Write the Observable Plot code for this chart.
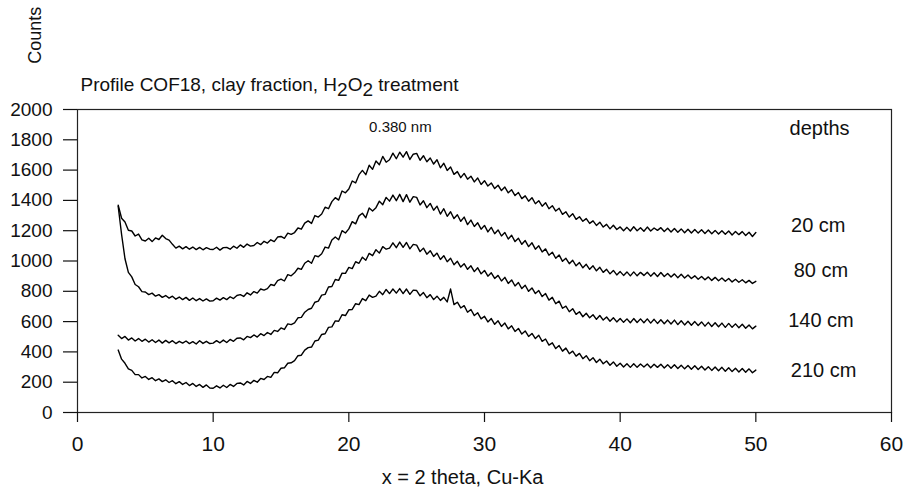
<!DOCTYPE html>
<html>
<head>
<meta charset="utf-8">
<script src="https://cdn.jsdelivr.net/npm/d3@7"></script>
<script src="https://cdn.jsdelivr.net/npm/@observablehq/plot@0.6"></script>
<style>
  html, body { margin: 0; padding: 0; background: #fff; }
  #chart { width: 911px; height: 499px; }
</style>
</head>
<body>
<div id="chart"></div>
<script>
// ---- data ----
const titleText = "Profile COF18, clay fraction, H2O2 treatment";
const yLabel = "Counts";
const xLabel = "x = 2 theta, Cu-Ka";
const peakLabel = "0.380 nm";
const legendTitle = "depths";
const depths = ["20 cm", "80 cm", "140 cm", "210 cm"];
const xTicks = [0, 10, 20, 30, 40, 50, 60];
const yTicks = [0, 200, 400, 600, 800, 1000, 1200, 1400, 1600, 1800, 2000];
// 2-theta sampling grid (every 0.25 degree from 3 to 50)
const theta = d3.range(3, 50.001, 0.25);

const counts20 = [
1368,1282,1258,1203, 1198,1165,1178,1140, 1132,1150,1128,1152, 1142,1170,1148,1138,
1110,1085,1098,1080, 1095,1078,1092,1075, 1090,1074,1088,1078, 1076,1091,1072,1088,
1090,1078,1098,1084, 1106,1090,1112,1098, 1102,1122,1108,1130, 1118,1140,1128,1158,
1162,1150,1184,1176, 1188,1218,1210,1250, 1265,1248,1300,1290, 1310,1355,1345,1392,
1418,1402,1462,1450, 1475,1528,1515,1570, 1598,1570,1632,1605, 1660,1635,1690,1652,
1668,1712,1675,1718, 1685,1722,1670,1705, 1710,1665,1695,1655, 1680,1640,1668,1615,
1645,1598,1620,1572, 1590,1550,1578,1540, 1560,1522,1548,1505, 1530,1495,1515,1478,
1500,1465,1488,1450, 1470,1432,1452,1412, 1430,1395,1418,1378, 1398,1362,1385,1345,
1365,1330,1348,1308, 1325,1290,1312,1275, 1292,1262,1280,1248, 1265,1235,1256,1224,
1242,1212,1236,1208, 1225,1200,1222,1198, 1226,1200,1220,1196, 1224,1198,1218,1202,
1220,1195,1216,1192, 1215,1190,1212,1186, 1210,1185,1208,1184, 1206,1182,1204,1180,
1202,1178,1200,1176, 1198,1172,1195,1174, 1194,1168,1190,1162, 1188];

const counts80 = [
1360,1175,1015,925, 895,845,830,798, 795,778,788,768, 778,760,772,755,
768,748,762,745, 760,740,756,738, 752,736,750,735, 738,755,742,758,
745,764,752,772, 778,766,790,776, 798,788,815,808, 818,845,838,870,
880,868,910,902, 922,952,945,985, 1002,985,1035,1028, 1048,1092,1085,1138,
1158,1140,1200,1185, 1212,1260,1245,1298, 1315,1285,1350,1330, 1352,1395,1372,1420,
1395,1435,1398,1440, 1392,1438,1388,1425, 1420,1370,1398,1352, 1380,1335,1362,1310,
1345,1295,1325,1280, 1305,1262,1290,1240, 1270,1228,1252,1210, 1235,1192,1222,1180,
1205,1165,1188,1145, 1170,1128,1150,1110, 1135,1095,1120,1078, 1100,1060,1080,1038,
1058,1018,1040,998, 1018,982,1005,968, 990,955,978,945, 968,935,958,925,
945,915,938,908, 930,905,928,902, 928,902,925,905, 926,900,922,898,
924,898,918,894, 915,890,912,888, 908,884,902,880, 898,876,895,872,
892,870,888,866, 885,862,880,860, 876,856,872,852, 866];

const counts140 = [
510,488,502,478, 492,472,488,470, 484,465,480,462, 478,458,476,460,
474,455,470,458, 472,455,468,452, 474,456,470,455, 458,474,460,478,
462,482,470,490, 492,480,502,494, 512,498,520,508, 528,515,542,535,
558,548,585,580, 592,625,628,662, 680,688,728,735, 775,780,828,832,
878,872,920,918, 958,950,995,985, 1025,1005,1050,1035, 1075,1052,1095,1078,
1085,1120,1088,1125, 1090,1122,1080,1110, 1105,1062,1085,1045, 1068,1030,1052,1010,
1035,995,1018,975, 998,960,982,945, 968,930,955,915, 938,900,922,885,
905,868,892,852, 875,835,858,818, 840,800,822,785, 805,765,785,742,
760,718,735,688, 702,665,685,648, 665,632,655,625, 645,615,640,610,
630,602,625,598, 620,595,618,592, 620,594,618,592, 618,590,615,588,
612,586,610,584, 610,580,606,578, 602,576,600,574, 598,570,595,568,
592,566,590,562, 588,562,585,560, 582,556,578,552, 570];

const counts210 = [
412,352,325,288, 278,250,250,228, 238,218,230,210, 222,204,216,198,
210,190,204,185, 198,178,192,172, 185,166,182,162, 160,176,162,180,
165,185,172,192, 195,182,205,192, 212,200,225,218, 238,232,265,262,
292,295,325,328, 342,375,378,412, 428,432,472,478, 515,520,562,565,
605,602,645,640, 678,680,718,712, 752,738,775,760, 768,800,778,812,
785,815,788,818, 785,815,780,808, 805,770,792,758, 778,745,768,740,
760,730,815,712, 728,690,705,662, 680,640,658,618, 635,598,620,582,
605,568,590,552, 572,535,555,518, 538,502,522,488, 510,470,485,445,
460,422,442,405, 425,388,405,372, 390,355,375,342, 362,330,352,322,
340,312,334,305, 325,300,322,298, 322,298,320,300, 320,296,318,298,
318,294,316,292, 315,290,312,288, 310,286,308,284, 305,280,302,278,
300,276,298,272, 295,270,292,268, 290,266,288,262, 280];

// label anchor positions (data coordinates)
const legendX = [54.6, 54.8, 54.8, 55.0];
const legendY = [1236, 939, 608, 278];

// ---- build table ----
const seriesList = [counts20, counts80, counts140, counts210];
const rows = [];
seriesList.forEach((vals, k) => {
  vals.forEach((v, i) => rows.push({depth: depths[k], theta: theta[i], counts: v}));
});
const legendRows = depths.map((d, k) => ({label: d, x: legendX[k], y: legendY[k]}));

const narrow = "'Liberation Sans Narrow', 'Arial Narrow', 'Liberation Sans', Arial, sans-serif";
const sans = "'Liberation Sans', Arial, Helvetica, sans-serif";

const chart = Plot.plot({
  width: 911,
  height: 499,
  marginLeft: 77,
  marginRight: 20,
  marginTop: 109,
  marginBottom: 87,
  style: {fontFamily: sans, color: "#111", background: "#fff"},
  x: {domain: [0, 60]},
  y: {domain: [0, 2000]},
  marks: [
    Plot.frame({stroke: "#222", strokeWidth: 1.2}),
    Plot.axisY({ticks: yTicks, tickSize: 14, tickPadding: 11, fontSize: 19, label: null, tickFormat: d => String(d), strokeWidth: 1.2}),
    Plot.axisX({ticks: xTicks, tickSize: 10, tickPadding: 14, fontSize: 21, fontFamily: narrow, label: null, tickFormat: d => String(d), strokeWidth: 1.2}),
    Plot.line(rows, {x: "theta", y: "counts", z: "depth", stroke: "#000", strokeWidth: 1.4}),
    Plot.text([peakLabel], {x: 23.8, y: 1884, fontSize: 15, fill: "#111"}),
    Plot.text([legendTitle], {x: 54.7, y: 1871, fontSize: 20, fill: "#111"}),
    Plot.text(legendRows, {x: "x", y: "y", text: "label", fontSize: 20, fill: "#111"}),
    Plot.text([yLabel], {x: -3.1, y: 2490, rotate: -90, fontSize: 18, fontFamily: narrow, fill: "#111"}),
    Plot.text([titleText], {frameAnchor: "top-left", dx: 3, dy: -19, textAnchor: "start", lineAnchor: "bottom", fontSize: 19, fill: "#111"}),
    Plot.text([xLabel], {frameAnchor: "bottom", dx: -22, dy: 71, fontSize: 20, fontFamily: narrow, fill: "#111"})
  ]
});

// subscripts in the title (H2O2)
d3.select(chart).selectAll("text").filter(function() { return this.textContent === titleText; })
  .each(function() {
    const t = d3.select(this);
    t.text(null);
    t.append("tspan").text("Profile COF18, clay fraction, H");
    t.append("tspan").attr("dy", "0.3em").text("2");
    t.append("tspan").attr("dy", "-0.3em").text("O");
    t.append("tspan").attr("dy", "0.3em").text("2");
    t.append("tspan").attr("dy", "-0.3em").text(" treatment");
  });

document.getElementById("chart").appendChild(chart);
</script>
</body>
</html>
